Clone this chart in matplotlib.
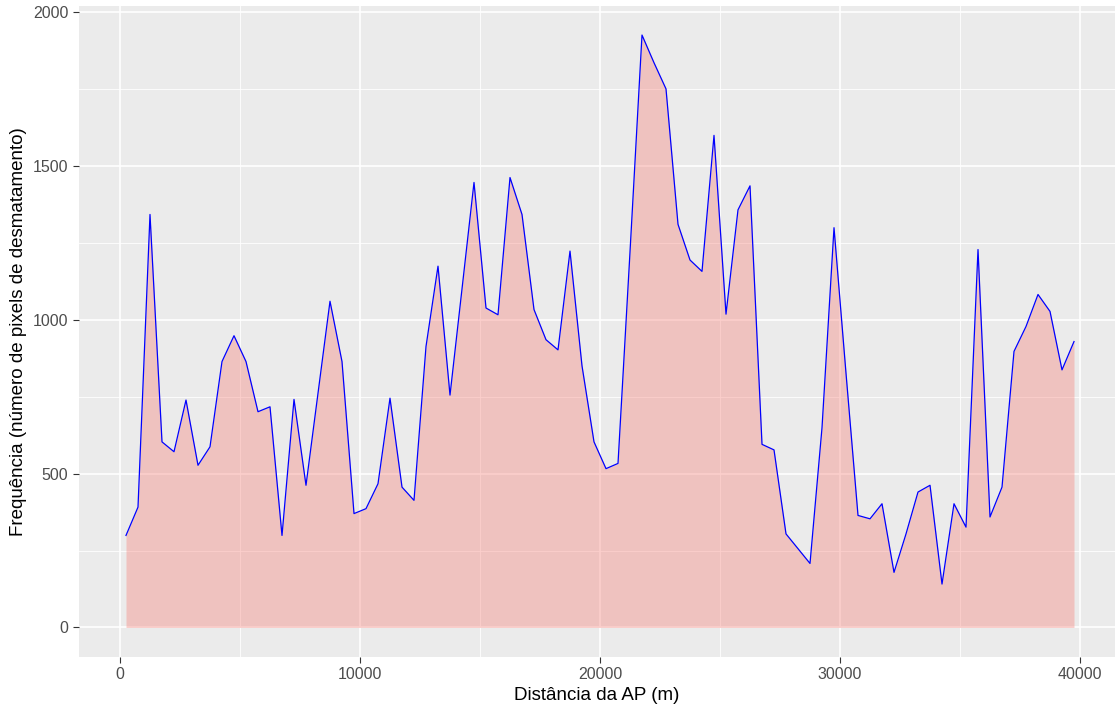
import numpy as np
import matplotlib
matplotlib.use("Agg")
import matplotlib.pyplot as plt

plt.rcParams['font.family'] = ['Liberation Sans', 'DejaVu Sans']

# distance from the protected area (m), one bin every 500 m
distancia = np.arange(250, 40000, 500)

# deforestation pixel count per bin
frequencia = [
    299, 391, 1342, 603, 571, 739, 527, 587, 864, 948,
    864, 701, 717, 299, 741, 462, 761, 1060, 864, 370,
    386, 467, 745, 456, 413, 913, 1174, 755, 1100, 1446,
    1038, 1016, 1462, 1342, 1033, 935, 902, 1223, 850, 603,
    516, 533, 1220, 1925, 1835, 1750, 1310, 1194, 1157, 1599,
    1018, 1357, 1435, 595, 577, 304, 256, 208, 649, 1299,
    826, 364, 353, 402, 179, 304, 440, 462, 141, 402,
    326, 1228, 359, 456, 897, 978, 1082, 1027, 837, 929,
]

x_ticks = [0, 10000, 20000, 30000, 40000]
y_ticks = [0, 500, 1000, 1500, 2000]

fig = plt.figure(figsize=(11.15, 7.06), dpi=100)
ax = fig.add_axes([78.6 / 1115, 49 / 706, (1115 - 78.6) / 1115, (657 - 5.5) / 706])

# ggplot2 grey theme
ax.set_facecolor("#EBEBEB")
for s in ax.spines.values():
    s.set_visible(False)
ax.set_axisbelow(True)
ax.grid(True, which="major", color="white", linewidth=1.2)
ax.grid(True, which="minor", color="white", linewidth=0.6)

ax.fill_between(distancia, 0, frequencia, color="#F8766D", alpha=0.35, linewidth=0)
ax.plot(distancia, frequencia, color="blue", linewidth=0.9)

ax.set_xlim(-1725, 41458)
ax.set_ylim(-96, 2021)
ax.set_xticks(x_ticks)
ax.set_yticks(y_ticks)
ax.set_xticks(np.arange(5000, 41000, 10000), minor=True)
ax.set_yticks(np.arange(250, 2000, 500), minor=True)
ax.tick_params(which="minor", length=0)
ax.tick_params(which="major", length=4, width=0.8, color="#333333",
               labelcolor="#4D4D4D", labelsize=11.5)

ax.set_xlabel("Distância da AP (m)", fontsize=13.5, labelpad=3)
ax.set_ylabel("Frequência (número de pixels de desmatamento)", fontsize=13.5, labelpad=4)

fig.savefig("out.png", dpi=100)
